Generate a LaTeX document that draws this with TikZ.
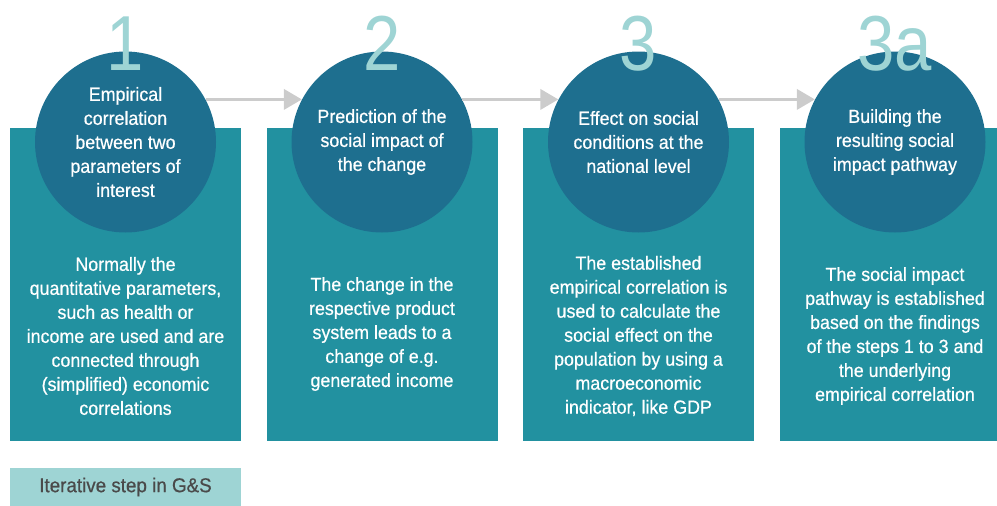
\documentclass[tikz,border=0pt]{standalone}
\usepackage{fontspec}
\setmainfont{Liberation Sans}[FakeStretch=0.94]
\newfontfamily\stepfont{Liberation Sans}[FakeStretch=0.94, FakeBold=0.6]
\newfontfamily\numfont{Liberation Sans}[FakeStretch=0.86]
\usepackage{xcolor}
\usepackage{tikz}
\usetikzlibrary{arrows.meta}
\usetikzlibrary{positioning}

\definecolor{stepblue}{HTML}{1E6F8F}
\definecolor{panelteal}{HTML}{2291A0}
\definecolor{numteal}{HTML}{9ED4D4}
\definecolor{arrowgray}{HTML}{CCCCCC}
\definecolor{legendtext}{HTML}{4A4A4A}

\tikzset{
  panel/.style={fill=panelteal, draw=none},
  stepcircle/.style={circle, fill=stepblue, draw=none, minimum size=181pt, inner sep=0pt,
    text=white, align=center, font=\stepfont\fontsize{19}{24}\selectfont},
  stepnum/.style={anchor=base, text=numteal, inner sep=0pt, font=\numfont\fontsize{78}{78}\selectfont},
  paneltext/.style={text=white, align=center, font=\stepfont\fontsize{19}{24}\selectfont},
  flow/.style={arrowgray, line width=3.5pt, -{Triangle[length=18pt, width=20pt]}}
}

\begin{document}
\begin{tikzpicture}[x=1pt, y=-1pt]
  \useasboundingbox (0,0) rectangle (997,506);

  % ===== Panels =====
  \fill[panel] (10,128) rectangle (241,441);
  \fill[panel] (267,128) rectangle (498,441);
  \fill[panel] (523,128) rectangle (754,441);
  \fill[panel] (780,128) rectangle (997,441);

  % ===== Circles =====
  \node[stepcircle] (c1) at (125.5,142) {Empirical\\correlation\\between two\\parameters of\\interest};
  \node[stepcircle] (c2) at (382,142) {Prediction of the\\social impact of\\the change};
  \node[stepcircle] (c3) at (638.5,142) {Effect on social\\conditions at the\\national level};
  \node[stepcircle] (c4) at (895,142) {Building the\\resulting social\\impact pathway};

  % ===== Step numbers =====
  \node[stepnum] (n1) at (125.5,70) {1};
  \node[stepnum] (n2) at (382,70) {2};
  \node[stepnum] (n3) at (638.5,70) {3};
  \node[stepnum] (n4) at (895,70) {3a};

  % ===== Arrows =====
  \draw[flow] (c1.28) -- (c2.152);
  \draw[flow] (c2.28) -- (c3.152);
  \draw[flow] (c3.28) -- (c4.152);

  % ===== Panel texts =====
  \node[paneltext] (t1) at (125.5,336) {Normally the\\quantitative parameters,\\such as health or\\income are used and are\\connected through\\(simplified) economic\\correlations};
  \node[paneltext] (t2) at (382,334) {The change in the\\respective product\\system leads to a\\change of e.g.\\generated income};
  \node[paneltext] (t3) at (638.5,336) {The established\\empirical correlation is\\used to calculate the\\social effect on the\\population by using a\\macroeconomic\\indicator, like GDP};
  \node[paneltext] (t4) at (895,336) {The social impact\\pathway is established\\based on the findings\\of the steps 1 to 3 and\\the underlying\\empirical correlation};

  % ===== Legend =====
  \fill[numteal] (10,468) rectangle (241,506);
  \node[text=legendtext, font=\stepfont\fontsize{20}{24}\selectfont] (leg) at (125.5,487) {Iterative step in G\&S};
\end{tikzpicture}
\end{document}
